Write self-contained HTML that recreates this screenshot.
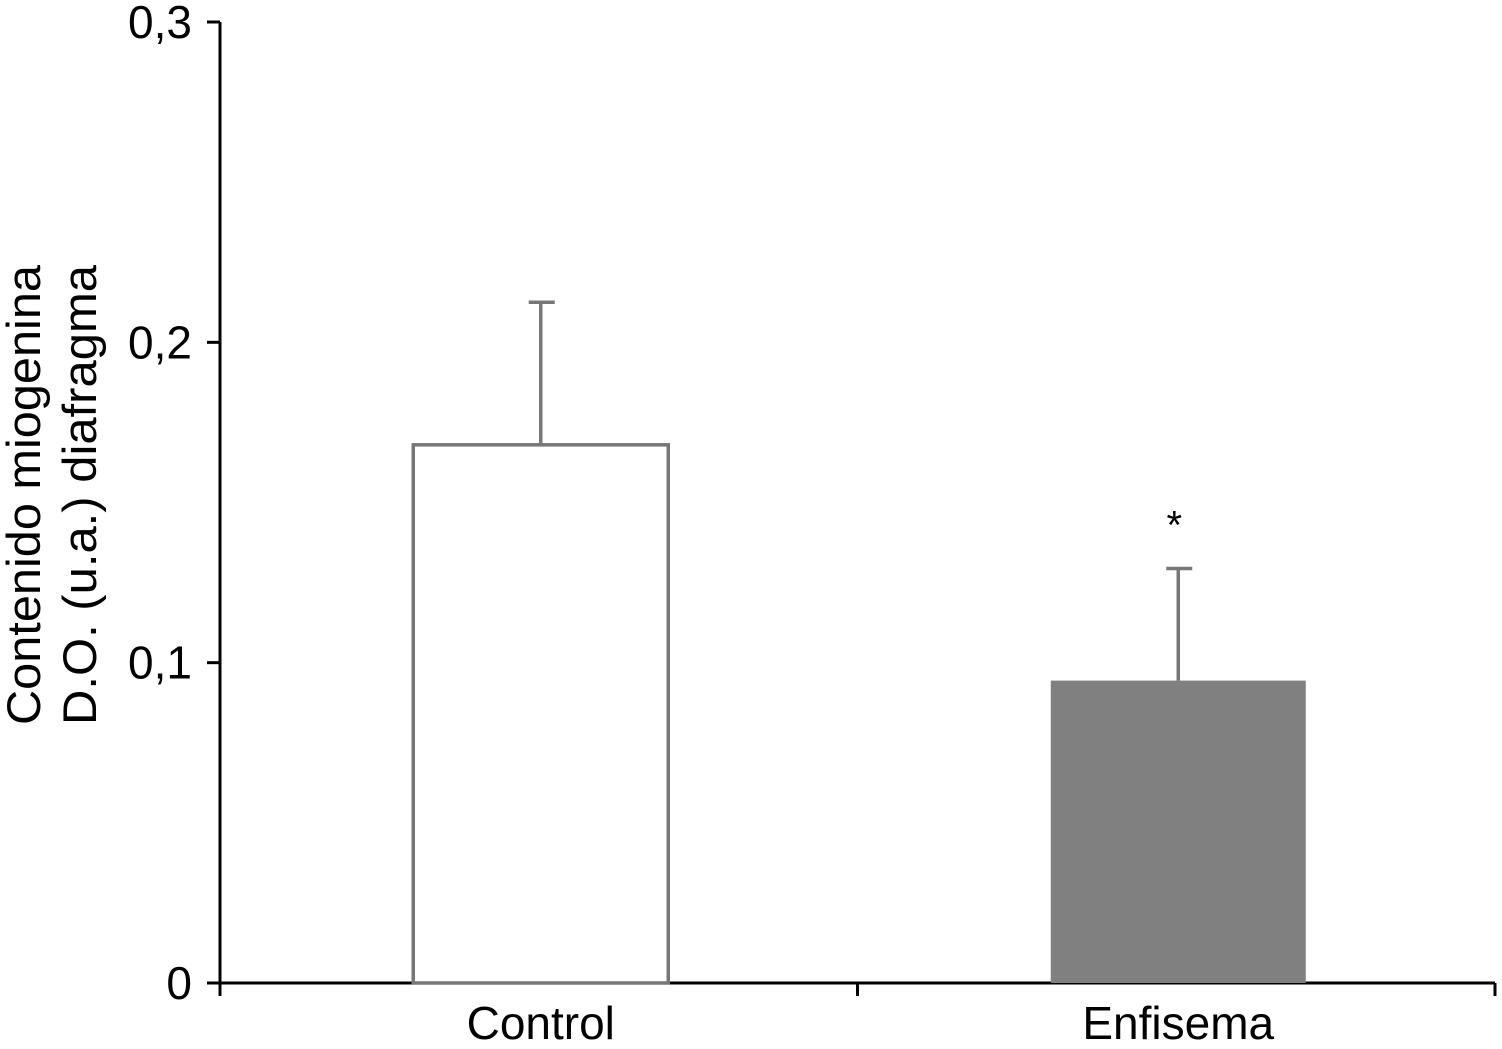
<!DOCTYPE html>
<html><head><meta charset="utf-8"><style>
body{margin:0;background:#fff;}
svg text{font-family:"Liberation Sans",sans-serif;fill:#000;}
</style></head><body>
<svg id="chart" width="1502" height="1044" viewBox="0 0 1502 1044">
<g id="axes"></g><g id="bars"></g>
<text transform="translate(40,495) rotate(-90)" text-anchor="middle" font-size="47" textLength="460" lengthAdjust="spacingAndGlyphs">Contenido miogenina</text>
<text transform="translate(96,495) rotate(-90)" text-anchor="middle" font-size="47" textLength="460" lengthAdjust="spacingAndGlyphs">D.O. (u.a.) diafragma</text>
</svg>
<script>
const categories=["Control","Enfisema"];
const values=[0.168,0.0944];
const errors=[0.0445,0.035];
const fills=["#ffffff","#808080"];
const stars=["","*"];
const yTicks=[0,0.1,0.2,0.3];
const yTickLabels=["0","0,1","0,2","0,3"];
const NS="http://www.w3.org/2000/svg";
const x0=220,x1=1495,y0=983,yTop=22,ymax=0.3;
const y=v=>y0-(v/ymax)*(y0-yTop);
const band=(x1-x0)/categories.length;
const xc=i=>x0+band*(i+0.5)+2;
function mk(t,a,p){const e=document.createElementNS(NS,t);for(const k in a)e.setAttribute(k,a[k]);p.appendChild(e);return e;}
const ax=document.getElementById('axes'),bg=document.getElementById('bars');
let l=mk('line',{x1:x0,y1:yTop,x2:x0,y2:y0+13,stroke:'#000','stroke-width':3},ax);


l=mk('line',{x1:x0-12,y1:y0,x2:x1,y2:y0,stroke:'#000','stroke-width':3},ax);


yTicks.forEach((v,i)=>{
  const t=mk('line',{x1:x0-13,y1:y(v),x2:x0,y2:y(v),stroke:'#000','stroke-width':3},ax);
  
  
  const tx=mk('text',{x:x0-28,y:y(v)+16,'text-anchor':'end','font-size':46},ax);
  tx.textContent=yTickLabels[i];
  
  
});
for(let i=1;i<=categories.length;i++){
  const t=mk('line',{x1:x0+band*i,y1:y0,x2:x0+band*i,y2:y0+13,stroke:'#000','stroke-width':3},ax);
  
  
}
const bw=255;
categories.forEach((c,i)=>{
  const cx=xc(i);
  const e=mk('line',{x1:cx,y1:y(values[i]),x2:cx,y2:y(values[i]+errors[i]),stroke:'#777','stroke-width':3.5},bg);
  
  
  const cap=mk('line',{x1:cx-12,y1:y(values[i]+errors[i]),x2:cx+14,y2:y(values[i]+errors[i]),stroke:'#777','stroke-width':3.5},bg);
  
  
  const r=mk('rect',{x:cx-bw/2,y:y(values[i]),width:bw,height:y0-y(values[i]),fill:fills[i],stroke:fills[i]==='#ffffff'?'#777':'none','stroke-width':3.5},bg);
  
  
  const t=mk('text',{x:cx,y:y0+56,'text-anchor':'middle','font-size':46},bg);
  t.textContent=c;
  
  
  if(stars[i]){
    const s=mk('text',{x:cx-4,y:y(values[i]+errors[i])-30,'text-anchor':'middle','font-size':40},bg);
    s.textContent=stars[i];
    
    
  }
});
</script>
</body></html>
